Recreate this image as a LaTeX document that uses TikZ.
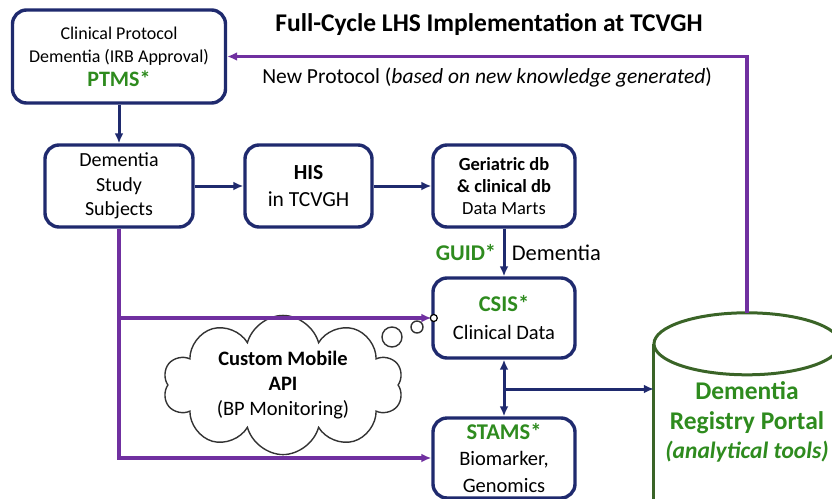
\documentclass[tikz,border=0pt]{standalone}
\usepackage{fontspec}
\setmainfont{Carlito}
\usetikzlibrary{positioning}
\usetikzlibrary{shapes.symbols}
\usetikzlibrary{arrows.meta}
\definecolor{NAVY}{HTML}{1F2A6E}
\definecolor{VIOLET}{HTML}{7030A0}
\definecolor{GREEN_T}{HTML}{2E8B1E}
\definecolor{GREEN_E}{HTML}{3A6427}
\newcommand{\fsize}[2]{\fontsize{#1}{#2}\selectfont}
\tikzset{
	box/.style = {draw=NAVY, line width=3.4pt, rounded corners=14pt, fill=white, align=center, inner sep=0pt},
	navyarrow/.style = {draw=NAVY, line width=3pt, -{Latex[length=10pt,width=9pt]}},
	violetarrow/.style = {draw=VIOLET, line width=3.2pt, -{Latex[length=10pt,width=9pt]}},
	regline/.style = {draw=GREEN_E, line width=3pt}
}

\begin{document}
\begin{tikzpicture}[x=1pt, y=-1pt]
		\useasboundingbox (0,0) rectangle (832,498);
		% title
		\node[font=\fsize{25.5}{30}\bfseries] (title) at (489,25) {Full-Cycle LHS Implementation at TCVGH};
		% boxes
		\node[box, minimum width=213, minimum height=93, font=\fsize{18}{23}] (ptms) at (119,56.5)
		      {Clinical Protocol\\Dementia (IRB Approval)\\[1pt]\fsize{22}{26}\textcolor{GREEN_T}{\bfseries PTMS*}};
		\node[box, minimum width=148, minimum height=82, font=\fsize{20}{24.5}] (subj) at (119,186) {Dementia\\Study\\Subjects};
		\node[box, minimum width=127, minimum height=82, font=\fsize{21.5}{27}] (his) at (308.5,186) {\textbf{HIS}\\in TCVGH};
		\node[box, minimum width=142, minimum height=82, font=\fsize{18.5}{22}] (geri) at (504,186)
		      {\textbf{Geriatric db}\\\textbf{\& clinical db}\\Data Marts};
		\node[box, minimum width=142, minimum height=80, font=\fsize{20.5}{28}] (csis) at (504,318)
		      {\fsize{22.5}{28}\textcolor{GREEN_T}{\bfseries CSIS*}\\Clinical Data};
		\node[box, minimum width=142, minimum height=80, font=\fsize{20.5}{26.5}] (stams) at (504,458)
		      {\fsize{22.5}{26.5}\textcolor{GREEN_T}{\bfseries STAMS*}\\Biomarker,\\Genomics};
		% registry
		\node[minimum width=186, minimum height=156, align=center, inner sep=0pt, text=GREEN_T,
		      font=\fsize{25.5}{29.5}\bfseries] (reg) at (747,422)
		      {Dementia\\Registry Portal\\\fsize{23.5}{29.5}\textit{(analytical tools)}};
		\draw[regline] (reg.north west) -- (reg.south west) (reg.north east) -- (reg.south east);
		\draw[regline] (reg.north) ellipse (93pt and 31pt);
		\coordinate (regtop) at ([yshift=31pt]reg.north);
		% mobile api
		\node[cloud, draw=black!80, line width=1.4pt, cloud puffs=10, aspect=2.1, minimum width=240, minimum height=116,
		      align=center, inner sep=0pt, font=\fsize{20.5}{25}] (api) at (283,385)
		      {\textbf{Custom Mobile}\\\textbf{API}\\(BP Monitoring)};
		\draw[black!80, line width=1.4pt, fill=white] (392,337) circle (10pt) (417,327) circle (6pt);
		% navy connectors
		\draw[navyarrow] (ptms) -- (subj);
		\draw[navyarrow] (subj) -- (his);
		\draw[navyarrow] (his) -- (geri);
		\draw[navyarrow] (geri) -- (csis)
		      node[midway, left=3pt, text=GREEN_T, font=\fsize{22.5}{26}\bfseries] {GUID*}
		      node[midway, right=3pt, font=\fsize{22.5}{26}] {Dementia};
		\draw[navyarrow, {Latex[length=10pt,width=9pt]}-{Latex[length=10pt,width=9pt]}] (csis) -- (stams);
		\coordinate (hub) at (504,389);
		\draw[navyarrow] (hub) -- (hub -| reg.west);
		% violet connectors
		\draw[violetarrow] (subj.south) |- (stams.west);
		\draw[violetarrow] (subj.south |- csis.west) -- (csis.west);
		\draw[black, line width=1.2pt, fill=white] ([xshift=2.5pt]csis.west) circle (3.5pt);
		\draw[violetarrow] (regtop) |- (ptms.east)
		      node[pos=0.75, below=6pt, text=black, font=\fsize{21.5}{25}] {New Protocol (\textit{based on new knowledge generated})};
	\end{tikzpicture}
\end{document}
